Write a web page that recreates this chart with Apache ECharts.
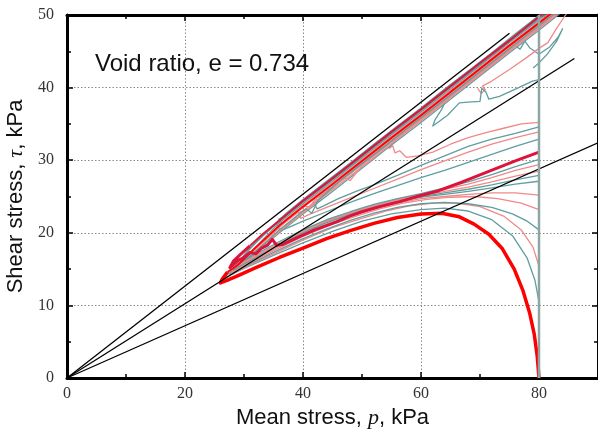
<!DOCTYPE html>
<html>
<head>
<meta charset="utf-8">
<script src="https://cdn.jsdelivr.net/npm/echarts@6/dist/echarts.min.js"></script>
<style>
  html, body { margin: 0; padding: 0; background: #fff; }
  #chart { width: 598px; height: 429px; }
</style>
</head>
<body>
<div id="chart"></div>
<script>
// Axis ticks
const xTicks = [0, 20, 40, 60, 80];
const yTicks = [0, 10, 20, 30, 40, 50];

// Reference lines through the origin (p, tau)
const lineSteep = [[0, 0], [75, 47.5]];
const lineMid = [[0, 0], [86, 44]];
const lineLow = [[0, 0], [90, 32.4]];
const lineInitialP = [[80, 0], [80, 50]];

// Stress paths, (p, tau) in kPa; the two bold paths are split at the
// turning point so the climb along the failure band can be drawn thinner
const pathRedLoad = [[80,0],[79.7,3],[79.2,6],[78.4,9],[77.3,12],[75.8,15],[73.8,17.8],[71.5,19.8],[69,21.2],[66.5,22.2],[63.5,22.7],[60,22.6],[56,22.1],[52,21.3],[48,20.3],[44,19.2],[40,17.9],[36,16.6],[32,15.2],[29,14.1],[27,13.4],[26,13.1],[26.3,13.6],[27.2,14.6]];
const pathRedBand = [[27.2,14.6],[29,15.6],[32,18],[36,21],[40,23.6],[45,26.7],[50,29.9],[55,33.1],[60,36.2],[65,39.4],[70,42.6],[75,45.8],[80,48.9],[83,50.8]];

const pathCrimsonLoad = [[80,31.1],[76,29.9],[71.6,28.5],[67,27],[63,25.8],[59.8,25.1],[56.4,24.3],[53,23.6],[50,22.9],[47.9,22.3],[45.7,21.5],[42,20.4],[39.5,19.5],[36.6,18.4],[35.5,18.3],[34.8,19.1],[34,18.3],[33,17.9],[32,17.1],[31,17.3],[30,16.6],[29,16.2],[28.2,15.6],[27.6,15.2],[28.2,16.1],[29.5,17.1],[31,18.2]];
const pathCrimsonBand = [[31,18.2],[33,19.7],[36,21.7],[40,24.4],[45,27.5],[50,30.7],[55,33.9],[60,37],[65,40.2],[70,43.4],[75,46.5],[79,49.1],[81,50.4]];

const pathL1 = [[80,10.5],[79.3,13.5],[78,16.5],[75.5,19.6],[72,21.8],[68,23],[64,23.4],[60,23.2],[55,22.6],[50,21.6],[45,20.2],[40,18.6],[35,16.9],[30,15.1],[27.2,14],[26.6,13.8],[27.4,14.5],[29,15.4],[32,17.3],[36,20],[40,22.6],[45,25.7],[50,28.9],[55,32.1],[60,35.2],[65,38.4],[70,41.6],[75,44.8],[80,47.9],[84,50.5]];
const pathL2 = [[80,15.4],[79,18],[77,20.4],[74,22.3],[70,23.6],[66,24.1],[62,24.1],[58,23.7],[54,23],[50,22],[45,20.7],[40,19],[35,17.1],[30,15.2],[27.4,14.1],[28,14.9],[30,16.3],[32.5,17.9],[36,20.4],[40,23],[45,26.1],[47,27.6],[48,27.2],[50,29.3],[55,32.5],[60,35.6],[65,38.8],[70,42],[75,45.2],[80,48.3],[83,50.3]];
const pathL3 = [[80,20.4],[78,21.6],[75.5,22.6],[72,23.5],[68,24],[64,24.2],[60,24],[56,23.5],[52,22.7],[48,21.7],[44,20.5],[40,19.2],[35,17.3],[30,15.3],[27.6,14.3],[28.4,15.3],[30.5,16.8],[33,18.9],[36,21.4],[40,24],[45,27.1],[50,30.3],[55,33.5],[60,36.6],[65,39.8],[70,43],[75,46.2],[79,48.7],[82,50.6]];
const pathL4 = [[80,23.2],[77,24.1],[73,24.7],[69,25],[65,24.9],[61,24.6],[57,24.1],[53,23.3],[49,22.3],[45,21.2],[40,19.5],[35,17.5],[30,15.4],[27.8,14.5],[28.6,15],[30.5,16.3],[33,17.9],[36,20.2],[39.5,22.4],[43,24.7],[47,27.2],[51,29.7],[55,32.3],[59,34.8],[63,37.3],[67,39.9],[71,42.4],[75,45],[79,47.5],[83,50],[84,50.7]];
const pathL5 = [[80,25.2],[76,25.5],[72,25.5],[68,25.3],[64,25],[60,24.7],[56,24.1],[52,23.3],[48,22.3],[44,21.2],[40,19.8],[35,17.7],[30,15.6],[28,14.7],[28.8,15.5],[31,17.1],[33.5,18.9],[36.5,21.1],[39,22.7],[41,23.3],[42,24.6],[45,26.5],[49,29.1],[53,31.6],[57,34.1],[61,36.7],[65,39.2],[69,41.7],[73,44.3],[77,46.8],[81,49.4],[83,50.6]];
const pathL6 = [[80,27.1],[76,26.7],[72,26.2],[68,25.7],[64,25.3],[60,24.9],[56,24.3],[52,23.5],[48,22.5],[44,21.4],[40,20],[35,17.9],[30,15.7],[28.2,14.9],[29,16],[31,17.8],[33.5,19.8],[36,21.6],[39,23.7],[42,25.6],[46,28.2],[50,30.7],[54,33.2],[58,35.8],[62,38.3],[66,40.8],[70,43.4],[74,45.9],[78,48.5],[81,50.4]];
const pathL7 = [[80,27.9],[76,27.3],[72,26.6],[68,26],[64,25.5],[60,25],[56,24.4],[52,23.6],[48,22.6],[44,21.5],[40,20.1],[35,18],[30,15.8],[28.4,15.1],[29.2,15.6],[31,16.8],[33.5,18.5],[36,20.4],[38.5,22],[40.5,23.3],[41.5,22.7],[42.5,24.4],[46,27],[50,29.5],[54,32],[58,34.6],[62,37.1],[66,39.6],[70,42.2],[74,44.7],[78,47.3],[82,49.8],[83.5,50.7]];
const pathL8 = [[80,28.5],[76,27.8],[72,27],[68,26.3],[64,25.7],[60,25.1],[56,24.5],[52,23.7],[48,22.7],[44,21.6],[40,20.2],[35,18.1],[30,15.9],[28.6,15.3],[29.4,16],[31.5,17.7],[34,19.6],[37,21.8],[40,23.8],[44,26.3],[48,28.8],[52,31.4],[56,33.9],[60,36.4],[64,39],[68,41.5],[72,44.1],[76,46.6],[80,49.1],[82,50.4]];
const pathL9 = [[80,29.4],[76,28.6],[72,27.6],[68,26.7],[64,26],[60,25.3],[56,24.6],[52,23.8],[48,22.8],[44,21.7],[40,20.3],[36,18.6],[33,17.3],[30.5,16.2],[29,15.5],[29.6,16.1],[32,17.9],[34.5,19.6],[37.5,21.9],[40,23.5],[44,26],[48,28.5],[52,31.1],[56,33.6],[60,36.1],[64,38.7],[68,41.2],[72,43.7],[76,46.3],[80,48.8],[83,50.7]];
const pathL10 = [[80,30.1],[76,29.1],[72,28],[68,27],[64,26.2],[60,25.4],[56,24.7],[52,23.9],[48,22.9],[44,21.8],[40,20.4],[36,18.8],[33,17.5],[30.5,16.4],[29.3,15.8],[30,16.9],[32,18.7],[34.5,20.6],[37,22.6],[40,24.6],[44,27.1],[48,29.6],[52,32.2],[56,34.7],[60,37.2],[64,39.8],[68,42.3],[72,44.8],[76,47.4],[79,49.3],[81,50.6]];

const pathM1 = [[80,32.9],[76,31.9],[72,30.8],[68,29.7],[64,28.6],[60,27.6],[56,26.5],[52,25.4],[48,24.2],[44,22.9],[40,21.6],[37.5,20.7],[36.2,20.3],[35.6,20.9],[36.4,21.4],[35.9,21.9],[37,22.3],[40,24.2],[44,26.7],[48,29.2],[52,31.8],[56,34.3],[60,36.8],[64,39.4],[68,41.9],[72,44.4],[76,47],[80,49.5],[81,50.2]];
const pathM2 = [[80,33.9],[76,33.1],[72,32.2],[68,31.1],[64,29.9],[60,28.7],[56,27.4],[52,26.1],[48,24.8],[44,23.5],[41,22.5],[39.6,22],[39.3,22.7],[40.2,23.1],[39.8,23.6],[41,23.6],[44,25.6],[48,28.1],[52,30.7],[56,33.2],[60,35.7],[64,38.3],[68,40.8],[72,43.3],[76,45.9],[80,48.4],[83,50.3]];
const pathM3 = [[80,34.6],[76,33.7],[72,32.9],[68,31.9],[64,30.6],[60,29.3],[56,27.9],[52,26.6],[49,25.7],[46,24.7],[43.5,23.7],[42.4,23.3],[41.9,24],[42.7,24.4],[42.1,24.8],[43,25.1],[46,27.1],[50,29.6],[54,32.1],[58,34.7],[62,37.2],[66,39.7],[70,42.3],[74,44.8],[78,47.4],[82,49.9],[83,50.5]];
const pathM4 = [[80,35.2],[77,35],[74,34.4],[71,33.8],[68,33.1],[65,32.2],[62,31.1],[59.5,30.6],[57.5,30.4],[56.4,31.3],[55.6,31],[55.2,32],[54.6,31.6],[55.2,32.4],[56,33],[60,35.5],[64,38.1],[68,40.6],[72,43.1],[76,45.7],[80,48.2],[83,50.1]];
const pathM5 = [[80,41.1],[78.9,40.9],[76,39.8],[73.3,38.8],[71.5,38.4],[71,39.4],[70.3,39.9],[70,38.1],[68,38],[66.5,37.9],[64.5,36.2],[63,35.3],[62,34.7],[62.4,35.6],[63.5,37],[65,39.5],[68,41.4],[72,43.9],[76,46.5],[80,49],[82,50.3]];
const pathM6 = [[69.6,39.9],[70.2,39.2],[70.9,39.7],[70.4,40.2],[72,40.9],[75,42.5],[78,44.2],[80,45.4],[81.5,46.2],[83,48.2],[84.5,50],[85.5,51]];
const pathM7 = [[72,43.9],[74,44.8],[75.5,46],[76.8,45.3],[77.6,46.4],[78.4,45.5],[80,44.6],[81.8,45.6],[83.2,46.9],[84,48.1],[83,46.4],[81.5,44.7],[80,43.4],[79,42.7]];

const TEAL = '#5f9ea0';
const PINK = '#f08a8a';
const CRIMSON = '#dc143c';
const RED = '#ff0000';

function path(data, color, width, z) {
  return {
    type: 'line', data: data, symbol: 'none', showSymbol: false,
    lineStyle: { color: color, width: width, join: 'round' },
    itemStyle: { color: color }, z: z || 2, silent: true, clip: true
  };
}

const series = [
  path(pathM7, TEAL, 1.3), path(pathM6, PINK, 1.3),
  path(pathM5, TEAL, 1.3), path(pathM4, PINK, 1.3),
  path(pathM3, TEAL, 1.3), path(pathM2, PINK, 1.3),
  path(pathM1, TEAL, 1.3),
  path(pathL1, TEAL, 1.3), path(pathL2, PINK, 1.3),
  path(pathL3, TEAL, 1.3), path(pathL4, PINK, 1.3),
  path(pathL5, PINK, 1.3), path(pathL6, TEAL, 1.3),
  path(pathL7, TEAL, 1.3), path(pathL8, PINK, 1.3),
  path(pathL9, PINK, 1.3), path(pathL10, TEAL, 1.3),
  path(pathCrimsonBand, CRIMSON, 2, 3),
  path(pathRedBand, RED, 1.8, 3),
  path(pathCrimsonLoad, CRIMSON, 3, 3),
  path(pathRedLoad, RED, 3.5, 4),
  path(lineSteep, '#000', 1.3, 5),
  path(lineMid, '#000', 1.3, 5),
  path(lineLow, '#000', 1.3, 5),
  path(lineInitialP, '#8ea5a6', 2.5, 5)
];

const tickFont = { fontFamily: 'Liberation Serif', fontSize: 16, color: '#333' };
const titleRich = {
  a: { fontFamily: 'Liberation Sans', fontSize: 22, color: '#111' },
  i: { fontFamily: 'Liberation Serif', fontStyle: 'italic', fontSize: 22, color: '#111' }
};
const frameLine = { show: true, onZero: false, lineStyle: { color: '#000', width: 3 } };
const majorTick = { show: true, inside: true, length: 6, lineStyle: { color: '#000', width: 1.5 } };
const minorTick = { show: true, splitNumber: 2, length: 4, lineStyle: { color: '#000', width: 1.5 } };
const dotted = { show: true, lineStyle: { color: '#888', width: 1, type: [1.5, 2] } };

const chart = echarts.init(document.getElementById('chart'), null, { renderer: 'canvas' });
chart.setOption({
  animation: false,
  backgroundColor: '#fff',
  grid: { left: 67, right: 0, top: 15, bottom: 51, containLabel: false, outerBoundsMode: 'none' },
  xAxis: [
    {
      type: 'value', min: xTicks[0], max: 90, interval: xTicks[1] - xTicks[0],
      position: 'bottom',
      axisLine: frameLine, axisTick: majorTick, minorTick: minorTick,
      splitLine: dotted,
      axisLabel: Object.assign({ margin: 8, showMaxLabel: false }, tickFont),
      name: '{a|Mean stress, }{i|p}{a|, kPa}',
      nameLocation: 'middle', nameGap: 19,
      nameTextStyle: { rich: titleRich }
    },
    {
      type: 'value', min: xTicks[0], max: 90, interval: xTicks[1] - xTicks[0],
      position: 'top',
      axisLine: frameLine, axisTick: majorTick, minorTick: minorTick,
      splitLine: { show: false }, axisLabel: { show: false }
    }
  ],
  yAxis: [
    {
      type: 'value', min: yTicks[0], max: yTicks[yTicks.length - 1], interval: yTicks[1] - yTicks[0],
      position: 'left',
      axisLine: frameLine, axisTick: majorTick, minorTick: minorTick,
      splitLine: dotted,
      axisLabel: Object.assign({ margin: 13 }, tickFont),
      name: '{a|Shear stress, }{i|τ}{a|, kPa}',
      nameLocation: 'middle', nameGap: 40,
      nameTextStyle: { rich: titleRich }
    },
    {
      type: 'value', min: yTicks[0], max: yTicks[yTicks.length - 1], interval: yTicks[1] - yTicks[0],
      position: 'right',
      axisLine: frameLine, axisTick: majorTick, minorTick: minorTick,
      splitLine: { show: false }, axisLabel: { show: false }
    }
  ],
  graphic: [{
    type: 'text', left: 95, top: 52, z: 10,
    style: { text: 'Void ratio, e = 0.734', font: '24px "Liberation Sans"', fill: '#111' }
  }],
  series: series
});
</script>
</body>
</html>
